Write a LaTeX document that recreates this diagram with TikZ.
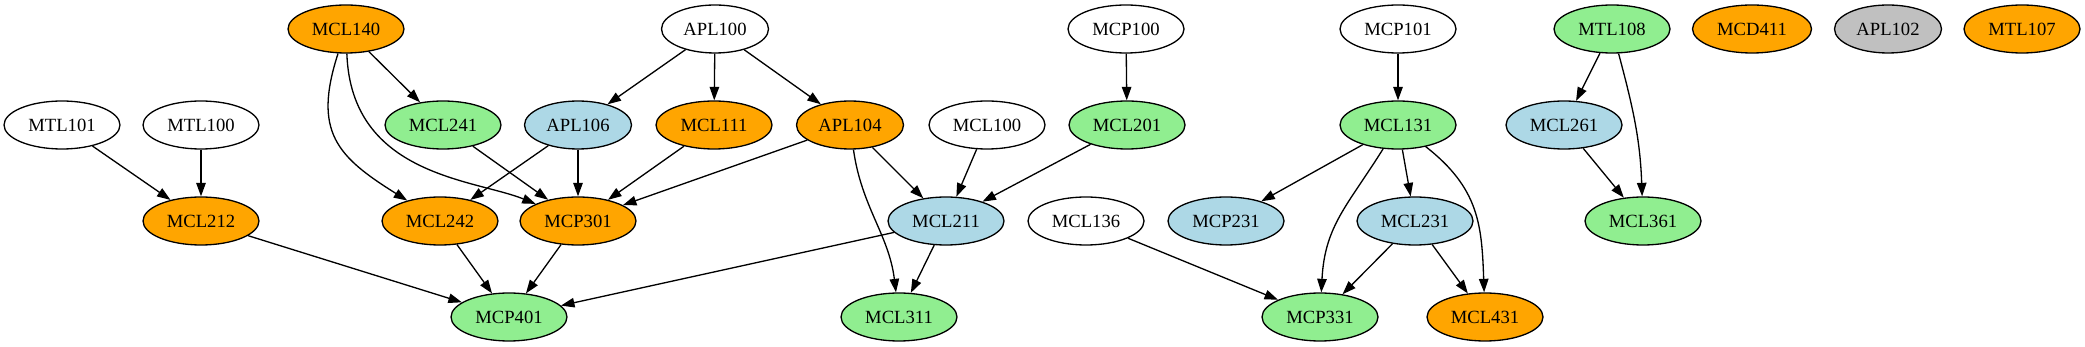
\documentclass[tikz,border=0pt]{standalone}
\usepackage{fontspec}
\setmainfont{Liberation Serif}
\usetikzlibrary{arrows.meta, shapes.geometric}
\definecolor{gvorange}{HTML}{FFA500}
\definecolor{gvgreen}{HTML}{90EE90}
\definecolor{gvblue}{HTML}{ADD8E6}
\definecolor{gvgray}{HTML}{C0C0C0}
\tikzset{
  course/.style = {ellipse, draw=black, line width=0.75pt, fill=white,
                   minimum width=2.32cm, minimum height=0.96cm, inner sep=0pt,
                   font=\fontsize{10.6}{12}\selectfont},
  apl/.style    = {course, minimum width=2.14cm},
  mcd/.style    = {course, minimum width=2.38cm},
  ora/.style    = {fill=gvorange},
  grn/.style    = {fill=gvgreen},
  blu/.style    = {fill=gvblue},
  gry/.style    = {fill=gvgray},
  ar/.style     = {-{Triangle[length=0.27cm,width=0.19cm]}, line width=0.75pt, draw=black},
}
\begin{document}
\begin{tikzpicture}[x=0.02cm, y=-0.02cm]
  \useasboundingbox (0,0) rectangle (2085,347);

  % top row
  \node[course, ora] (mcl140) at (346,29)  {MCL140};
  \node[apl]         (apl100) at (715,29)  {APL100};
  \node[course]      (mcp100) at (1126,29) {MCP100};
  \node[course]      (mcp101) at (1398,29) {MCP101};
  \node[course, grn] (mtl108) at (1612,29) {MTL108};
  \node[mcd, ora]    (mcd411) at (1752,29) {MCD411};
  \node[apl, gry]    (apl102) at (1888,29) {APL102};
  \node[course, ora] (mtl107) at (2022,29) {MTL107};

  % second row
  \node[course]      (mtl101) at (62,125)   {MTL101};
  \node[course]      (mtl100) at (201,125)  {MTL100};
  \node[course, grn] (mcl241) at (443,125)  {MCL241};
  \node[apl, blu]    (apl106) at (578,125)  {APL106};
  \node[course, ora] (mcl111) at (714,125)  {MCL111};
  \node[apl, ora]    (apl104) at (850,125)  {APL104};
  \node[course]      (mcl100) at (987,125)  {MCL100};
  \node[course, grn] (mcl201) at (1127,125) {MCL201};
  \node[course, grn] (mcl131) at (1398,125) {MCL131};
  \node[course, blu] (mcl261) at (1564,125) {MCL261};

  % third row
  \node[course, ora] (mcl212) at (201,221)  {MCL212};
  \node[course, ora] (mcl242) at (440,221)  {MCL242};
  \node[course, ora] (mcp301) at (578,221)  {MCP301};
  \node[course, blu] (mcl211) at (946,221)  {MCL211};
  \node[course]      (mcl136) at (1086,221) {MCL136};
  \node[course, blu] (mcp231) at (1226,221) {MCP231};
  \node[course, blu] (mcl231) at (1415,221) {MCL231};
  \node[course, grn] (mcl361) at (1643,221) {MCL361};

  % bottom row
  \node[course, grn] (mcp401) at (509,317)  {MCP401};
  \node[course, grn] (mcl311) at (899,317)  {MCL311};
  \node[course, grn] (mcp331) at (1320,317) {MCP331};
  \node[course, ora] (mcl431) at (1485,317) {MCL431};

  \draw[ar] (mtl101) -- (mcl212);
  \draw[ar] (mtl100) -- (mcl212);
  \draw[ar] (mcl140) -- (mcl241);
  \draw[ar] (mcl140) to[out=-108, in=148, looseness=1.3] (mcl242);
  \draw[ar] (mcl140) to[out=-88, in=158, out looseness=1.3, in looseness=0.7] (mcp301);
  \draw[ar] (apl100) -- (apl106);
  \draw[ar] (apl100) -- (mcl111);
  \draw[ar] (apl100) -- (apl104);
  \draw[ar] (mcl241) -- (mcp301);
  \draw[ar] (apl106) -- (mcl242);
  \draw[ar] (apl106) -- (mcp301);
  \draw[ar] (mcl111) -- (mcp301);
  \draw[ar] (apl104) -- (mcp301);
  \draw[ar] (apl104) -- (mcl211);
  \draw[ar] (apl104) to[out=-82, in=97] (mcl311);
  \draw[ar] (mcl100) -- (mcl211);
  \draw[ar] (mcl201) -- (mcl211);
  \draw[ar] (mcp100) -- (mcl201);
  \draw[ar] (mcl212) -- (mcp401);
  \draw[ar] (mcl242) -- (mcp401);
  \draw[ar] (mcp301) -- (mcp401);
  \draw[ar] (mcl211) -- (mcp401);
  \draw[ar] (mcl211) -- (mcl311);
  \draw[ar] (mcl136) -- (mcp331);
  \draw[ar] (mcp101) -- (mcl131);
  \draw[ar] (mcl131) -- (mcp231);
  \draw[ar] (mcl131) -- (mcl231);
  \draw[ar] (mcl131) to[out=-122, in=87, looseness=1.1] (mcp331);
  \draw[ar] (mcl131) to[out=-38, in=92, looseness=1.1] (mcl431);
  \draw[ar] (mcl231) -- (mcp331);
  \draw[ar] (mcl231) -- (mcl431);
  \draw[ar] (mtl108) -- (mcl261);
  \draw[ar] (mtl108) to[out=-75, in=92] (mcl361);
  \draw[ar] (mcl261) -- (mcl361);

\end{tikzpicture}
\end{document}
